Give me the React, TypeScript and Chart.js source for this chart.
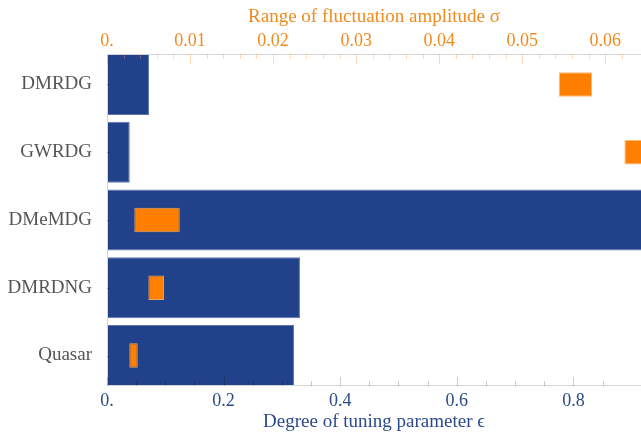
import { useEffect, useRef } from 'react';
import { Chart, registerables } from 'chart.js';

Chart.register(...registerables);

const categories = ['DMRDG', 'GWRDG', 'DMeMDG', 'DMRDNG', 'Quasar'];
const tuningEpsilon = [0.072, 0.039, 0.95, 0.331, 0.321];
const sigmaLow = [0.0544, 0.0623, 0.00329, 0.00498, 0.00269];
const sigmaHigh = [0.0584, 0.066, 0.00876, 0.00687, 0.0037];
const epsilonAxisMax = 0.916;
const sigmaAxisMax = 0.0643;
const epsilonStep = 0.05;
const epsilonLabelStep = 0.2;
const sigmaStep = 0.002;
const sigmaLabelStep = 0.01;

const BLUE = '#21428a';
const ORANGE = '#ff8000';
const ORANGE_TEXT = '#f08a1e';
const BLUE_TEXT = '#2b4a8c';
const SERIF = "'Liberation Serif', 'DejaVu Serif', serif";

const isMult = (v: number, s: number) => Math.abs(v / s - Math.round(v / s)) < 1e-6;

const axisDecor = {
  id: 'axisDecor',
  afterDatasetsDraw(chart: any) {
    const { ctx, chartArea: a, scales } = chart;
    ctx.save();
    ctx.lineWidth = 1;
    ctx.strokeStyle = '#d6d6d6';
    ctx.beginPath();
    ctx.moveTo(a.left, a.top + 0.5);
    ctx.lineTo(a.right, a.top + 0.5);
    ctx.moveTo(a.left, a.bottom - 0.5);
    ctx.lineTo(a.right, a.bottom - 0.5);
    ctx.moveTo(a.left + 0.5, a.top);
    ctx.lineTo(a.left + 0.5, a.bottom);
    ctx.stroke();
    ctx.strokeStyle = 'rgba(255,150,50,0.35)';
    ctx.beginPath();
    for (const t of scales.x2.ticks) {
      const px = Math.round(scales.x2.getPixelForValue(t.value)) + 0.5;
      const len = isMult(t.value, sigmaLabelStep) ? 10 : 5;
      ctx.moveTo(px, a.top);
      ctx.lineTo(px, a.top + len);
    }
    ctx.stroke();
    ctx.strokeStyle = 'rgba(0,0,0,0.2)';
    ctx.beginPath();
    for (const t of scales.x.ticks) {
      const px = Math.round(scales.x.getPixelForValue(t.value)) + 0.5;
      const len = isMult(t.value, epsilonLabelStep) ? 9 : 5;
      ctx.moveTo(px, a.bottom);
      ctx.lineTo(px, a.bottom - len);
    }
    ctx.stroke();
    ctx.strokeStyle = 'rgba(0,0,0,0.25)';
    ctx.beginPath();
    for (const t of scales.y.ticks) {
      const py = Math.round(scales.y.getPixelForValue(t.value)) + 0.5;
      ctx.moveTo(a.left, py);
      ctx.lineTo(a.left + 3, py);
    }
    ctx.stroke();
    ctx.restore();
  },
};

export default function App() {
  const ref = useRef<HTMLCanvasElement | null>(null);

  useEffect(() => {
    if (!ref.current) return;
    document.body.style.margin = '0';
    Chart.defaults.font.family = SERIF;
    const chart = new Chart(ref.current, {
      type: 'bar',
      data: {
        datasets: [
          {
            label: 'sigma',
            xAxisID: 'x2',
            yAxisID: 'y',
            data: categories.map((_, i) => ({ x: [sigmaLow[i], sigmaHigh[i]], y: i })) as any,
            backgroundColor: ORANGE,
            borderColor: 'rgba(255,175,100,0.9)',
            borderWidth: 1,
            borderSkipped: false,
            barPercentage: 0.362,
            categoryPercentage: 1,
            grouped: false,
            order: 0,
          },
          {
            label: 'epsilon',
            xAxisID: 'x',
            yAxisID: 'y',
            data: categories.map((_, i) => ({ x: tuningEpsilon[i], y: i })) as any,
            backgroundColor: BLUE,
            borderColor: '#5b73aa',
            borderWidth: 1,
            borderSkipped: false,
            barPercentage: 0.9,
            categoryPercentage: 1,
            grouped: false,
            order: 1,
          },
        ],
      },
      options: {
        indexAxis: 'y',
        animation: false,
        responsive: false,
        layout: { padding: 0, autoPadding: false },
        plugins: { legend: { display: false }, tooltip: { enabled: false } },
        scales: {
          x: {
            type: 'linear',
            position: 'bottom',
            min: 0,
            max: epsilonAxisMax,
            ticks: {
              stepSize: epsilonStep,
              autoSkip: false,
              maxRotation: 0,
              color: BLUE_TEXT,
              font: { size: 18 },
              padding: 4,
              callback: (v: any) => (isMult(v, epsilonLabelStep) ? (v === 0 ? '0.' : Number(v).toFixed(1)) : ''),
            },
            grid: { display: false, drawTicks: false },
            border: { display: false },
            title: {
              display: true,
              text: 'Degree of tuning parameter ϵ',
              color: BLUE_TEXT,
              font: { size: 19, lineHeight: 1.1 },
              padding: { top: 0, bottom: 0 },
            },
            afterFit: (s: any) => {
              s.height = 46;
              s.paddingLeft = 0;
              s.paddingRight = 0;
            },
          },
          x2: {
            type: 'linear',
            position: 'top',
            min: 0,
            max: sigmaAxisMax,
            ticks: {
              stepSize: sigmaStep,
              autoSkip: false,
              maxRotation: 0,
              color: ORANGE_TEXT,
              font: { size: 18 },
              padding: 2,
              callback: (v: any) => (isMult(v, sigmaLabelStep) ? (v === 0 ? '0.' : Number(v).toFixed(2)) : ''),
            },
            grid: { display: false, drawTicks: false },
            border: { display: false },
            title: {
              display: true,
              text: 'Range of fluctuation amplitude σ',
              color: ORANGE_TEXT,
              font: { size: 19 },
              padding: { top: 6, bottom: 0 },
            },
            afterFit: (s: any) => {
              s.height = 54;
              s.paddingLeft = 0;
              s.paddingRight = 0;
            },
          },
          y: {
            type: 'linear',
            reverse: true,
            offset: false,
            min: -0.45,
            max: categories.length - 1 + 0.45,
            afterBuildTicks: (s: any) => {
              s.ticks = categories.map((_, i) => ({ value: i }));
            },
            ticks: {
              autoSkip: false,
              color: '#555555',
              font: { size: 19 },
              padding: 15,
              callback: (v: any) => categories[v] ?? '',
            },
            grid: { display: false, drawTicks: false, offset: false },
            border: { display: false },
            afterFit: (s: any) => {
              s.width = 107;
              s.paddingTop = 0;
              s.paddingBottom = 0;
            },
          },
        },
      } as any,
      plugins: [axisDecor],
    });
    return () => chart.destroy();
  }, []);

  return (
    <div style={{ position: 'absolute', left: 0, top: 0, width: 641, height: 432 }}>
      <canvas ref={ref} width={641} height={432} style={{ width: 641, height: 432, display: 'block' }} />
    </div>
  );
}
